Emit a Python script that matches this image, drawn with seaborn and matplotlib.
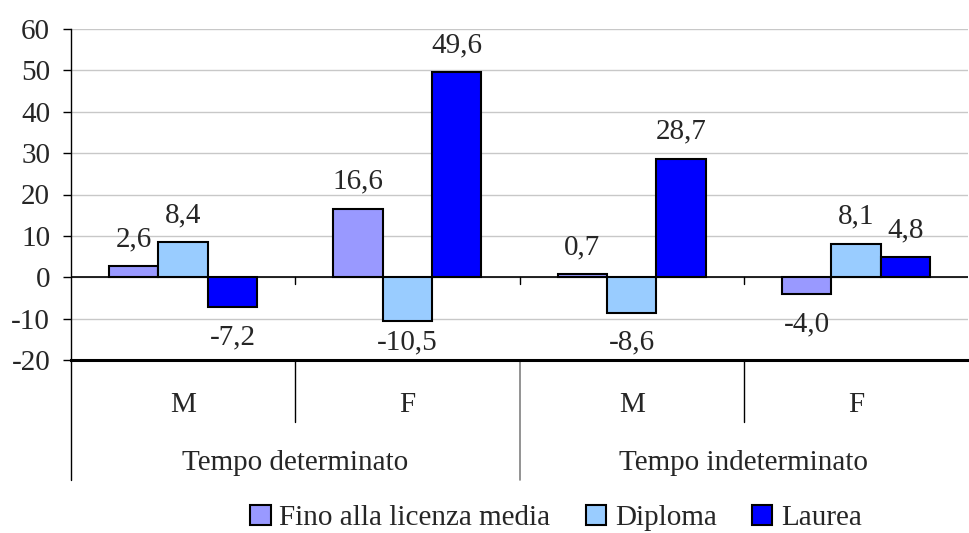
import matplotlib
matplotlib.use("Agg")
import matplotlib.pyplot as plt
import pandas as pd
import seaborn as sns

# dati
gruppi = ["TD-M", "TD-F", "TI-M", "TI-F"]
sesso = ["M", "F", "M", "F"]
contratti = ["Tempo determinato", "Tempo indeterminato"]
titoli = ["Fino alla licenza media", "Diploma", "Laurea"]

fino = [2.6, 16.6, 0.7, -4.0]
diploma = [8.4, -10.5, -8.6, 8.1]
laurea = [-7.2, 49.6, 28.7, 4.8]

colori = ["#9999FF", "#99CCFF", "#0000FF"]
y_ticks = [-20, -10, 0, 10, 20, 30, 40, 50, 60]

df = pd.DataFrame({
    "gruppo": gruppi * 3,
    "titolo": [t for t in titoli for _ in gruppi],
    "valore": fino + diploma + laurea,
})

sns.set_style("white")
plt.rcParams["font.family"] = ["Liberation Serif", "DejaVu Serif"]
FS = 21

fig = plt.figure(figsize=(9.69, 5.33), dpi=100)
ax = fig.add_axes([71 / 969, 1 - 360 / 533, 897 / 969, 331 / 533])

sns.barplot(data=df, x="gruppo", y="valore", hue="titolo", order=gruppi,
            hue_order=titoli, palette=colori, width=0.66, edgecolor="black",
            linewidth=1.5, saturation=1, ax=ax, zorder=3)

# etichette dei valori (stile Excel: sopra/sotto la barra)
for cont, vals in zip(ax.containers, [fino, diploma, laurea]):
    for bar, v in zip(cont, vals):
        xc = bar.get_x() + bar.get_width() / 2
        if v >= 0:
            yl = v + 6.5
        else:
            yl = max(v - 7.3, -15.8)
        ax.text(xc, yl, f"{v:.1f}".replace(".", ","), ha="center", va="center",
                fontsize=FS, zorder=5)

ax.set_xlim(-0.5, 3.5)
ax.set_ylim(-20, 60)
ax.set_yticks(y_ticks)
ax.set_yticklabels([str(t) for t in y_ticks], fontsize=FS)
ax.tick_params(axis="y", direction="out", length=6, width=1, color="black",
               left=True, pad=9)
ax.set_xticks([])
ax.set_xlabel("")
ax.set_ylabel("")
ax.yaxis.grid(True, color="#c8c8c8", lw=1)
ax.set_axisbelow(True)
ax.axhline(0, color="black", lw=1.2, zorder=4)

for s in ["top", "right"]:
    ax.spines[s].set_visible(False)
ax.spines["left"].set_color("black")
ax.spines["left"].set_linewidth(1)
ax.spines["bottom"].set_color("black")
ax.spines["bottom"].set_linewidth(2.2)

# asse categorie su due livelli
tr = ax.get_xaxis_transform()
ax.plot([-0.5, -0.5], [0, -0.363], transform=tr, color="black", lw=1, clip_on=False)
for x in [0.5, 2.5]:
    ax.plot([x, x], [0, -0.187], transform=tr, color="black", lw=1, clip_on=False)
    ax.plot([x, x], [0, -1.6], color="black", lw=1, zorder=4)
ax.plot([1.5, 1.5], [0, -0.363], transform=tr, color="#808080", lw=1.2, clip_on=False)
ax.plot([1.5, 1.5], [0, -1.6], color="black", lw=1, zorder=4)

for i, s in enumerate(sesso):
    ax.text(i, -0.137, s, transform=tr, ha="center", va="center", fontsize=FS)
for j, c in enumerate(contratti):
    ax.text(2 * j + 0.5, -0.31, c, transform=tr, ha="center", va="center", fontsize=FS)

handles, labels = ax.get_legend_handles_labels()
if ax.get_legend() is not None:
    ax.get_legend().remove()
fig.legend(handles, labels, loc="center", bbox_to_anchor=(556 / 969, 1 - 518 / 533),
           ncol=3, frameon=False, fontsize=FS, handlelength=0.7, handleheight=0.7,
           handletextpad=0.3, columnspacing=1.2)

fig.savefig("out.png", dpi=100)
